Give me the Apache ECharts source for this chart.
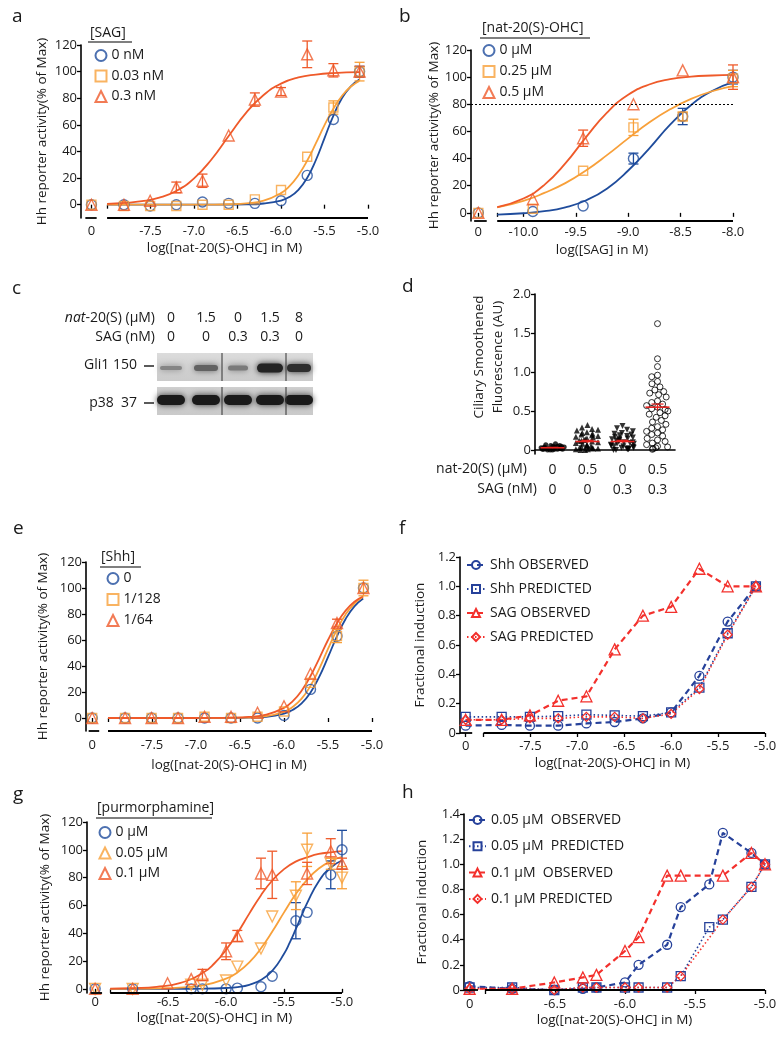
<!DOCTYPE html>
<html>
<head>
<meta charset="utf-8">
<script src="https://cdn.jsdelivr.net/npm/echarts@6.0.0/dist/echarts.min.js"></script>
<style>
  html, body { margin: 0; padding: 0; background: #fff; }
  #chart { width: 784px; height: 1037px; }
</style>
</head>
<body>
<div id="chart"></div>
<script>
const FONT = "'Open Sans', 'Liberation Sans', sans-serif";
const BLUE = '#1f4c9c', ORANGE = '#f8a03a', RED = '#ef5a2a';
const FBLUE = '#26419a', FRED = '#f3302c';

// ---- a: nat-20(S)-OHC dose response under [SAG] ----
const doseA = [0, -7.806, -7.505, -7.204, -6.903, -6.602, -6.301, -6.0, -5.699, -5.398, -5.097];
const aSag0 = [0, 0, -1, 0, 2, 1, 1, 3, 22, 64, 100];
const aSag003 = [0, -1, -1, -1, 0, 0, 4, 11, 36, 73, 100];
const aSag03 = [0, 0, 3, 13, 18, 52, 79, 85, 113, 101, 100];
const aErr0 = [0, 0, 0, 0, 0, 0, 0, 0, 0, 0, 4];
const aErr003 = [0, 0, 0, 0, 0, 0, 0, 0, 0, 5, 7];
const aErr03 = [0, 0, 0, 4, 5, 0, 5, 3, 10, 5, 4];
// fitted curves
const aFit0 = [[-8.0, 0], [-7.6, 0], [-7.2, 0], [-6.8, 0], [-6.6, 0.1], [-6.4, 0.2], [-6.2, 0.9], [-6.0, 3.1], [-5.9, 5.9], [-5.8, 11.2], [-5.7, 20], [-5.6, 33.4], [-5.5, 50], [-5.4, 66.6], [-5.3, 80], [-5.2, 88.8], [-5.1, 94]];
const aFit003 = [[-8.0, 0], [-7.6, 0], [-7.2, 0], [-6.8, 0.1], [-6.6, 0.35], [-6.4, 1.0], [-6.2, 3.0], [-6.0, 8.7], [-5.9, 14.1], [-5.8, 22.2], [-5.7, 33], [-5.6, 46], [-5.5, 59.8], [-5.4, 72], [-5.3, 81.7], [-5.2, 88.6], [-5.1, 93]];
const aFit03 = [[-8.0, 0.6], [-7.8, 1.3], [-7.6, 2.6], [-7.4, 5.3], [-7.2, 10.5], [-7.0, 19.8], [-6.8, 34], [-6.6, 51.8], [-6.4, 69.2], [-6.2, 82.4], [-6.0, 91], [-5.8, 95.6], [-5.6, 97.8], [-5.4, 98.9], [-5.1, 99.6]];

// ---- b: SAG dose response under [nat-20(S)-OHC] ----
const doseB = [0, -9.91, -9.43, -8.95, -8.48, -8.0];
const bOhc0 = [0, 1, 5, 40, 71, 100];
const bOhc025 = [0, 3, 31, 63, 71, 99];
const bOhc05 = [0, 10, 55, 80, 105, 100];
const bErr0 = [0, 0, 0, 4, 6, 5];
const bErr025 = [0, 0, 0, 6, 3, 6];
const bErr05 = [0, 0, 6, 0, 0, 9];
const bFit0 = [[-10.25, -1.3], [-10.0, -0.3], [-9.8, 1.2], [-9.6, 4.1], [-9.4, 9.3], [-9.2, 18], [-9.0, 31.2], [-8.8, 47.4], [-8.6, 65], [-8.4, 79.5], [-8.2, 89.8], [-8.0, 96.3]];
const bFit025 = [[-10.25, 4], [-10.0, 8.8], [-9.8, 14.7], [-9.6, 21.9], [-9.4, 31.4], [-9.2, 42.7], [-9.0, 54.9], [-8.8, 66.5], [-8.6, 76.3], [-8.4, 84], [-8.2, 89.6], [-8.0, 93.3]];
const bFit05 = [[-10.25, 4.3], [-10.0, 10.6], [-9.8, 20.6], [-9.6, 36.4], [-9.4, 56], [-9.2, 74.1], [-9.0, 87], [-8.8, 94.6], [-8.6, 98.5], [-8.4, 100.4], [-8.2, 101.2], [-8.0, 101.6]];

// ---- c: western blot lanes ----
const blotNat = ['0', '1.5', '0', '1.5', '8'];
const blotSag = ['0', '0', '0.3', '0.3', '0'];

// ---- d: ciliary Smoothened ----
const dCats = ['0\n0', '0.5\n0', '0\n0.3', '0.5\n0.3'];
const dCtrl = [0.00, 0.00, 0.01, 0.01, 0.01, 0.02, 0.02, 0.02, 0.02, 0.03, 0.03, 0.03, 0.04, 0.04, 0.05, 0.05, 0.06, 0.07, 0.08, 0.01, 0.02, 0.03, 0.00, 0.04, 0.06, 0.02, 0.05, 0.01];
const dNat = [0.32, 0.29, 0.27, 0.26, 0.25, 0.23, 0.22, 0.21, 0.2, 0.19, 0.18, 0.17, 0.16, 0.15, 0.14, 0.13, 0.12, 0.11, 0.1, 0.09, 0.08, 0.07, 0.06, 0.05, 0.05, 0.04, 0.03, 0.03, 0.02, 0.02, 0.01, 0.01, 0.0, 0.0, 0.12];
const dSag = [0.31, 0.28, 0.26, 0.24, 0.22, 0.21, 0.2, 0.19, 0.18, 0.17, 0.16, 0.15, 0.14, 0.13, 0.12, 0.11, 0.1, 0.1, 0.09, 0.08, 0.07, 0.06, 0.05, 0.05, 0.04, 0.03, 0.03, 0.02, 0.02, 0.01, 0.01, 0.0, 0.0, 0.15, 0.08];
const dBoth = [1.62, 1.17, 1.07, 0.96, 0.94, 0.88, 0.85, 0.81, 0.77, 0.75, 0.73, 0.71, 0.68, 0.63, 0.61, 0.59, 0.57, 0.55, 0.53, 0.52, 0.5, 0.48, 0.46, 0.44, 0.42, 0.38, 0.36, 0.33, 0.3, 0.28, 0.26, 0.24, 0.22, 0.2, 0.18, 0.15, 0.13, 0.11, 0.09, 0.07, 0.05, 0.04, 0.03, 0.02, 0.01];
const dMean = [0.03, 0.11, 0.11, 0.55];
const dSem = [0.005, 0.015, 0.015, 0.04];

// ---- e: nat-20(S)-OHC dose response under [Shh] ----
const eShh0 = [0, 0, 0, 0, 0, 0, 0, 2, 22, 63, 100];
const eShh128 = [0, 0, 0, 0, 1, 0, 1, 5, 27, 63, 100];
const eShh64 = [0, 0, 0, 0, 1, 1, 4, 9, 34, 73, 100];
const eErr0 = [0, 0, 0, 0, 0, 0, 0, 0, 0, 0, 0];
const eErr128 = [0, 0, 0, 0, 0, 0, 0, 0, 0, 5, 6];
const eErr64 = [0, 0, 0, 0, 0, 0, 0, 0, 0, 3, 0];
const eFit0 = [[-8.0, 0], [-7.6, 0], [-7.2, 0], [-6.8, 0], [-6.6, 0.07], [-6.4, 0.27], [-6.2, 0.95], [-6.0, 3.4], [-5.9, 6.3], [-5.8, 11.3], [-5.7, 19.5], [-5.6, 31.6], [-5.5, 46.8], [-5.4, 62.6], [-5.3, 76.2], [-5.2, 85.9], [-5.1, 92]];
const eFit128 = [[-8.0, 0], [-7.6, 0], [-7.2, 0], [-6.8, 0.1], [-6.6, 0.2], [-6.4, 0.4], [-6.2, 1.4], [-6.0, 4.8], [-5.9, 8.6], [-5.8, 14.9], [-5.7, 24.6], [-5.6, 37.8], [-5.5, 53.1], [-5.4, 67.8], [-5.3, 79.7], [-5.2, 88], [-5.1, 93.2]];
const eFit64 = [[-8.0, 0], [-7.6, 0], [-7.2, 0], [-6.8, 0.1], [-6.6, 0.27], [-6.4, 0.8], [-6.2, 2.6], [-6.0, 7.8], [-5.9, 13], [-5.8, 21], [-5.7, 32.1], [-5.6, 45.7], [-5.5, 60], [-5.4, 72.7], [-5.3, 82.6], [-5.2, 89.4], [-5.1, 93.7]];

// ---- f: fractional induction, Shh vs SAG ----
const fShhObs = [0.05, 0.055, 0.05, 0.05, 0.065, 0.075, 0.10, 0.14, 0.39, 0.76, 1.0];
const fShhPred = [0.11, 0.11, 0.11, 0.115, 0.125, 0.12, 0.115, 0.14, 0.31, 0.68, 1.0];
const fSagObs = [0.09, 0.09, 0.12, 0.22, 0.25, 0.57, 0.80, 0.86, 1.12, 1.0, 1.0];
const fSagPred = [0.09, 0.09, 0.10, 0.10, 0.11, 0.11, 0.10, 0.13, 0.30, 0.67, 1.0];

// ---- g: nat-20(S)-OHC dose response under [purmorphamine] ----
const doseG = [0, -6.806, -6.505, -6.301, -6.204, -6.0, -5.903, -5.699, -5.602, -5.398, -5.301, -5.097, -5.0];
const gPur0 = [0, 0, null, 0, 0, 0, 0.5, 1.5, 9, 49, 55, 82, 100];
const gPur005 = [0, 0, null, 3, 3, 6, 16, 29, 52, 67, 100, 90, 80];
const gPur01 = [0, 0, 4, 7, 10, 27, 38, 83, 82, null, 83, 99, 90];
const gErr0 = [0, 0, 0, 0, 0, 0, 0, 0, 0, 13, 0, 10, 14];
const gErr005 = [0, 0, 0, 0, 0, 0, 0, 0, 0, 10, 12, 4, 8];
const gErr01 = [0, 0, 0, 0, 4, 6, 4, 11, 17, 0, 8, 9, 4];
const gFit0 = [[-7.0, 0], [-6.6, 0], [-6.4, 0], [-6.2, 0.1], [-6.0, 0.6], [-5.9, 1.3], [-5.8, 2.9], [-5.7, 6.3], [-5.6, 13.1], [-5.5, 25.2], [-5.45, 33.4], [-5.4, 42.7], [-5.35, 52.4], [-5.3, 61.8], [-5.2, 77.4], [-5.1, 87.1], [-5.0, 92.3]];
const gFit005 = [[-7.0, 0], [-6.8, 0.1], [-6.6, 0.3], [-6.4, 0.9], [-6.2, 2.5], [-6.0, 7.3], [-5.9, 11.9], [-5.8, 19], [-5.7, 29], [-5.6, 41.4], [-5.5, 55], [-5.4, 68], [-5.3, 78.6], [-5.2, 86.5], [-5.1, 91.7], [-5.0, 95]];
const gFit01 = [[-7.0, 0.15], [-6.8, 0.5], [-6.6, 1.4], [-6.4, 4.1], [-6.2, 11.5], [-6.1, 18.4], [-6.0, 28.1], [-5.9, 40.4], [-5.8, 54.1], [-5.7, 67.2], [-5.6, 78.1], [-5.5, 86.1], [-5.4, 91.5], [-5.3, 94.6], [-5.2, 97], [-5.1, 98.2], [-5.0, 99]];

// ---- h: fractional induction, purmorphamine ----
const hObs005 = [0.03, 0.01, 0.0, 0.01, 0.02, 0.06, 0.2, 0.36, 0.66, 0.84, 1.25, 1.09, 1.0];
const hPred005 = [0.02, 0.02, 0.0, 0.02, 0.02, 0.02, 0.02, 0.02, 0.11, 0.5, 0.56, 0.82, 1.0];
const hObs01 = [0.01, 0.01, 0.06, 0.1, 0.12, 0.31, 0.42, 0.91, 0.91, null, 0.91, 1.09, 1.0];
const hPred01 = [0.01, 0.01, 0.0, 0.02, 0.02, 0.02, 0.02, 0.02, 0.11, null, 0.56, 0.82, 1.0];

const hhTicks = [0, 20, 40, 60, 80, 100, 120];

const grids = [], xAxes = [], yAxes = [], series = [], legends = [], graphics = [];

function fmtDec(v) { return v === 0 ? '0' : v.toFixed(1); }

function addPanel(p) {
  const gi = grids.length;
  grids.push(p.grid);
  xAxes.push({
    gridIndex: gi, type: 'value', min: p.x[0], max: p.x[1],
    axisLine: { show: false }, splitLine: { show: false },
    axisTick: { show: true, length: 4, lineStyle: { color: '#000', width: 1.3 }, customValues: [p.ctrl, p.main[0]].concat(p.xt) },
    axisLabel: { customValues: [p.ctrl].concat(p.xt), formatter: v => Math.abs(v - p.ctrl) < 1e-6 ? '0' : v.toFixed(1), color: '#1a1a1a', fontSize: 13, margin: p.xMargin },
    name: p.xName, nameLocation: 'middle', nameGap: p.xGap, nameTextStyle: { color: '#1a1a1a', fontSize: 13.5 }
  });
  yAxes.push({
    gridIndex: gi, type: 'value', min: p.y[0], max: p.y[1],
    axisLine: { show: true, lineStyle: { color: '#000', width: 1.6 } }, splitLine: { show: false },
    axisTick: { show: true, length: 4, lineStyle: { color: '#000', width: 1.3 }, customValues: p.yt },
    axisLabel: { customValues: p.yt, formatter: p.yFmt || (v => String(v)), color: '#1a1a1a', fontSize: 13, margin: 4 },
    name: p.yName, nameLocation: 'middle', nameGap: p.yGap, nameRotate: 90, nameTextStyle: { color: '#1a1a1a', fontSize: 13.5 }
  });
  // broken x axis: short segment for the vehicle control, then the log axis
  series.push({
    type: 'custom', xAxisIndex: gi, yAxisIndex: gi, silent: true, z: 5,
    data: [[p.seg[0], p.y[0], p.seg[1]], [p.main[0], p.y[0], p.main[1]]],
    renderItem: (params, api) => {
      const s = api.coord([api.value(0), api.value(1)]);
      const e = api.coord([api.value(2), api.value(1)]);
      return { type: 'line', shape: { x1: s[0], y1: s[1], x2: e[0], y2: e[1] }, style: { stroke: '#000', lineWidth: 1.8 } };
    }
  });
  return gi;
}

function xOf(d, ctrl) { return d === 0 ? ctrl : d; }

function addPoints(gi, ctrl, name, doses, vals, sym, color, size, rot) {
  series.push({
    type: 'scatter', name, xAxisIndex: gi, yAxisIndex: gi, symbol: sym, symbolSize: size, symbolRotate: rot || 0, z: 4,
    itemStyle: { color: 'rgba(255,255,255,0)', borderColor: color, borderWidth: 1.4 },
    data: doses.map((d, i) => vals[i] == null ? null : [xOf(d, ctrl), vals[i]]).filter(Boolean)
  });
}

function addErr(gi, ctrl, doses, vals, errs, color) {
  series.push({
    type: 'custom', xAxisIndex: gi, yAxisIndex: gi, silent: true, z: 3,
    data: doses.map((d, i) => errs[i] ? [xOf(d, ctrl), vals[i], errs[i]] : null).filter(Boolean),
    renderItem: (params, api) => {
      const x = api.value(0), y = api.value(1), e = api.value(2);
      const t = api.coord([x, y + e]), b = api.coord([x, y - e]);
      const st = { stroke: color, lineWidth: 1.3 };
      return { type: 'group', children: [
        { type: 'line', shape: { x1: t[0], y1: t[1], x2: b[0], y2: b[1] }, style: st },
        { type: 'line', shape: { x1: t[0] - 5, y1: t[1], x2: t[0] + 5, y2: t[1] }, style: st },
        { type: 'line', shape: { x1: b[0] - 5, y1: b[1], x2: b[0] + 5, y2: b[1] }, style: st }
      ] };
    }
  });
}

function addCurve(gi, pts, color, extra) {
  series.push(Object.assign({
    type: 'line', xAxisIndex: gi, yAxisIndex: gi, data: pts, symbol: 'none', silent: true,
    smooth: 0.5, lineStyle: { color, width: 1.8 }, z: 2
  }, extra || {}));
}

function addFrac(gi, ctrl, name, doses, vals, sym, color, observed) {
  series.push({
    type: 'line', name, xAxisIndex: gi, yAxisIndex: gi, symbol: sym, symbolSize: sym === 'triangle' ? 11 : 9, z: 3,
    showAllSymbol: true,
    lineStyle: { color, width: observed ? 2.2 : 1.6, type: observed ? [6, 4] : [1.5, 2.5] },
    itemStyle: { color: 'rgba(255,255,255,0)', borderColor: color, borderWidth: 1.3 },
    data: doses.map((d, i) => vals[i] == null ? null : [xOf(d, ctrl), vals[i]]).filter(Boolean)
  });
}

function addLegend(left, top, gap, names, iw, ih) {
  legends.push({
    left, top, orient: 'vertical', padding: 0, itemGap: gap, itemWidth: iw, itemHeight: ih,
    selectedMode: false, data: names, textStyle: { fontSize: 14, color: '#1a1a1a' }
  });
}

function txt(x, y, text, style, rot) {
  const el = { type: 'text', x, y, silent: true,
    style: Object.assign({ text, fill: '#1a1a1a', fontSize: 14, fontFamily: FONT, align: 'left', verticalAlign: 'middle' }, style || {}) };
  if (rot) el.rotation = rot;
  graphics.push(el);
}
function ln(x1, y1, x2, y2, w, c) {
  graphics.push({ type: 'line', silent: true, shape: { x1, y1, x2, y2 }, style: { stroke: c || '#000', lineWidth: w || 1 } });
}

// ----- panel a -----
const pa = { grid: { left: 81, top: 45, width: 287, height: 173 }, x: [-8.3, -5.0], y: [-10, 120], ctrl: -8.18,
  seg: [-8.25, -8.12], main: [-8.0, -5.0], xt: [-7.5, -7.0, -6.5, -6.0, -5.5, -5.0], yt: hhTicks,
  xName: 'log([nat-20(S)-OHC] in M)', yName: 'Hh reporter activity(% of Max)', xMargin: 7, xGap: 23, yGap: 32 };
const ga = addPanel(pa);
addCurve(ga, aFit0, BLUE); addCurve(ga, aFit003, ORANGE); addCurve(ga, aFit03, RED);
addErr(ga, pa.ctrl, doseA, aSag0, aErr0, BLUE);
addErr(ga, pa.ctrl, doseA, aSag003, aErr003, ORANGE);
addErr(ga, pa.ctrl, doseA, aSag03, aErr03, RED);
addPoints(ga, pa.ctrl, '0 nM', doseA, aSag0, 'circle', BLUE, 10);
addPoints(ga, pa.ctrl, '0.03 nM', doseA, aSag003, 'rect', ORANGE, 9);
addPoints(ga, pa.ctrl, '0.3 nM', doseA, aSag03, 'triangle', RED, 11);
addLegend(94.5, 48.5, 6.5, ['0 nM', '0.03 nM', '0.3 nM'], 11, 11);

// ----- panel b -----
const pb = { grid: { left: 471, top: 50, width: 262, height: 171 }, x: [-10.5, -8.0], y: [-6, 120], ctrl: -10.43,
  seg: [-10.47, -10.35], main: [-10.25, -8.0], xt: [-10.0, -9.5, -9.0, -8.5, -8.0], yt: hhTicks,
  xName: 'log([SAG] in M)', yName: 'Hh reporter activity(% of Max)', xMargin: 5, xGap: 22, yGap: 30 };
const gb = addPanel(pb);
addCurve(gb, bFit0, BLUE); addCurve(gb, bFit025, ORANGE);
addCurve(gb, bFit05, RED, { markLine: { silent: true, symbol: 'none', label: { show: false },
  lineStyle: { color: '#000', width: 1, type: [2, 2] }, data: [{ yAxis: 80 }] } });
addErr(gb, pb.ctrl, doseB, bOhc0, bErr0, BLUE);
addErr(gb, pb.ctrl, doseB, bOhc025, bErr025, ORANGE);
addErr(gb, pb.ctrl, doseB, bOhc05, bErr05, RED);
addPoints(gb, pb.ctrl, '0 µM', doseB, bOhc0, 'circle', BLUE, 10);
addPoints(gb, pb.ctrl, '0.25 µM', doseB, bOhc025, 'rect', ORANGE, 9);
addPoints(gb, pb.ctrl, '0.5 µM', doseB, bOhc05, 'triangle', RED, 11);
addLegend(482.5, 43.5, 7, ['0 µM', '0.25 µM', '0.5 µM'], 11, 11);

// ----- panel e -----
const pe = { grid: { left: 86, top: 562, width: 286, height: 169 }, x: [-8.25, -5.0], y: [-10, 120], ctrl: -8.18,
  seg: [-8.22, -8.1], main: [-8.0, -5.0], xt: [-7.5, -7.0, -6.5, -6.0, -5.5, -5.0], yt: hhTicks,
  xName: 'log([nat-20(S)-OHC] in M)', yName: 'Hh reporter activity(% of Max)', xMargin: 8, xGap: 27, yGap: 36 };
const ge = addPanel(pe);
addCurve(ge, eFit0, BLUE); addCurve(ge, eFit128, ORANGE); addCurve(ge, eFit64, RED);
addErr(ge, pe.ctrl, doseA, eShh0, eErr0, BLUE);
addErr(ge, pe.ctrl, doseA, eShh128, eErr128, ORANGE);
addErr(ge, pe.ctrl, doseA, eShh64, eErr64, RED);
addPoints(ge, pe.ctrl, '0', doseA, eShh0, 'circle', BLUE, 10);
addPoints(ge, pe.ctrl, '1/128', doseA, eShh128, 'rect', ORANGE, 9);
addPoints(ge, pe.ctrl, '1/64', doseA, eShh64, 'triangle', RED, 11);
addLegend(106.5, 571.5, 7, ['0', '1/128', '1/64'], 11, 11);

// ----- panel f -----
const pf = { grid: { left: 460, top: 557, width: 305, height: 176 }, x: [-8.25, -5.0], y: [0, 1.2], ctrl: -8.19,
  seg: [-8.25, -8.12], main: [-8.0, -5.0], xt: [-7.5, -7.0, -6.5, -6.0, -5.5, -5.0], yt: [0, 0.2, 0.4, 0.6, 0.8, 1.0, 1.2],
  yFmt: fmtDec, xName: 'log([nat-20(S)-OHC] in M)', yName: 'Fractional induction', xMargin: 7, xGap: 23, yGap: 33 };
const gf = addPanel(pf);
addFrac(gf, pf.ctrl, 'Shh OBSERVED', doseA, fShhObs, 'circle', FBLUE, true);
addFrac(gf, pf.ctrl, 'Shh PREDICTED', doseA, fShhPred, 'rect', FBLUE, false);
addFrac(gf, pf.ctrl, 'SAG OBSERVED', doseA, fSagObs, 'triangle', FRED, true);
addFrac(gf, pf.ctrl, 'SAG PREDICTED', doseA, fSagPred, 'diamond', FRED, false);
addLegend(466, 558, 10, ['Shh OBSERVED', 'Shh PREDICTED', 'SAG OBSERVED', 'SAG PREDICTED'], 18, 10);

// ----- panel g -----
const pg = { grid: { left: 87, top: 822, width: 255, height: 171 }, x: [-7.2, -5.0], y: [-3, 120], ctrl: -7.13,
  seg: [-7.17, -7.07], main: [-7.0, -5.0], xt: [-6.5, -6.0, -5.5, -5.0], yt: hhTicks,
  xName: 'log([nat-20(S)-OHC] in M)', yName: 'Hh reporter activity(% of Max)', xMargin: 3, xGap: 18, yGap: 35 };
const gg = addPanel(pg);
addCurve(gg, gFit0, BLUE); addCurve(gg, gFit005, ORANGE); addCurve(gg, gFit01, RED);
addErr(gg, pg.ctrl, doseG, gPur0, gErr0, BLUE);
addErr(gg, pg.ctrl, doseG, gPur005, gErr005, ORANGE);
addErr(gg, pg.ctrl, doseG, gPur01, gErr01, RED);
addPoints(gg, pg.ctrl, '0 µM', doseG, gPur0, 'circle', BLUE, 10);
addPoints(gg, pg.ctrl, '0.05 µM', doseG, gPur005, 'triangle', ORANGE, 11, 180);
addPoints(gg, pg.ctrl, '0.1 µM', doseG, gPur01, 'triangle', RED, 11);
addLegend(98.5, 825.5, 6.5, ['0 µM', '0.05 µM', '0.1 µM'], 11, 11);

// ----- panel h -----
const ph = { grid: { left: 464, top: 814, width: 301, height: 176 }, x: [-7.15, -5.0], y: [0, 1.4], ctrl: -7.11,
  seg: [-7.15, -7.05], main: [-7.0, -5.0], xt: [-6.5, -6.0, -5.5, -5.0], yt: [0, 0.2, 0.4, 0.6, 0.8, 1.0, 1.2, 1.4],
  yFmt: fmtDec, xName: 'log([nat-20(S)-OHC] in M)', yName: 'Fractional induction', xMargin: 8, xGap: 23, yGap: 35 };
const gh = addPanel(ph);
addFrac(gh, ph.ctrl, '0.05 µM  OBSERVED', doseG, hObs005, 'circle', FBLUE, true);
addFrac(gh, ph.ctrl, '0.05 µM  PREDICTED', doseG, hPred005, 'rect', FBLUE, false);
addFrac(gh, ph.ctrl, '0.1 µM  OBSERVED', doseG, hObs01, 'triangle', FRED, true);
addFrac(gh, ph.ctrl, '0.1 µM PREDICTED', doseG, hPred01, 'diamond', FRED, false);
addLegend(468, 813, 12.3, ['0.05 µM  OBSERVED', '0.05 µM  PREDICTED', '0.1 µM  OBSERVED', '0.1 µM PREDICTED'], 17, 10);

// ----- panel d -----
const gd = grids.length;
grids.push({ left: 535, top: 294, width: 140, height: 160 });
xAxes.push({
  gridIndex: gd, type: 'category', data: dCats, jitter: 24, jitterOverlap: false, jitterMargin: 0,
  axisLine: { show: true, lineStyle: { color: '#000', width: 1.6 } }, axisTick: { show: false },
  axisLabel: { interval: 0, fontSize: 14, lineHeight: 20, color: '#1a1a1a', margin: 6 }
});
yAxes.push({
  gridIndex: gd, type: 'value', min: -0.05, max: 2.0, splitLine: { show: false },
  axisLine: { show: true, lineStyle: { color: '#000', width: 1.6 } },
  axisTick: { show: true, length: 4, lineStyle: { color: '#000', width: 1.3 }, customValues: [0, 0.5, 1.0, 1.5, 2.0] },
  axisLabel: { customValues: [0, 0.5, 1.0, 1.5, 2.0], formatter: fmtDec, color: '#1a1a1a', fontSize: 13, margin: 4 }
});
[[dCtrl, 'circle', 5, 0, true], [dNat, 'triangle', 6, 0, true], [dSag, 'triangle', 6, 180, true], [dBoth, 'circle', 6, 0, false]]
  .forEach((g, ci) => {
    series.push({
      type: 'scatter', xAxisIndex: gd, yAxisIndex: gd, symbol: g[1], symbolSize: g[2], symbolRotate: g[3], z: 3, silent: true,
      itemStyle: g[4] ? { color: '#000' } : { color: 'rgba(255,255,255,0)', borderColor: '#000', borderWidth: 1 },
      data: g[0].map(v => [ci, v])
    });
  });
series.push({
  type: 'custom', xAxisIndex: gd, yAxisIndex: gd, silent: true, z: 6,
  data: dMean.map((m, i) => [i, m, dSem[i]]),
  renderItem: (params, api) => {
    const c = api.coord([api.value(0), api.value(1)]);
    const hi = api.coord([api.value(0), api.value(1) + api.value(2)]);
    const lo = api.coord([api.value(0), api.value(1) - api.value(2)]);
    const st = { stroke: '#e8231f', lineWidth: 1.6 };
    return { type: 'group', children: [
      { type: 'line', shape: { x1: c[0] - 12, y1: c[1], x2: c[0] + 12, y2: c[1] }, style: st },
      { type: 'line', shape: { x1: c[0], y1: hi[1], x2: c[0], y2: lo[1] }, style: { stroke: '#e8231f', lineWidth: 1.2 } },
      { type: 'line', shape: { x1: c[0] - 6, y1: hi[1], x2: c[0] + 6, y2: hi[1] }, style: { stroke: '#e8231f', lineWidth: 1.2 } }
    ] };
  }
});
txt(489, 357, 'Ciliary Smoothened\nFluorescence (AU)', { align: 'center', fontSize: 13.5, lineHeight: 19 }, Math.PI / 2);
txt(527, 469, 'nat-20(S) (µM)', { align: 'right' });
txt(537, 489, 'SAG (nM)', { align: 'right' });

// ----- panel letters and legend headers -----
[['a', 12, 17], ['b', 399, 17], ['c', 12, 289], ['d', 402, 287], ['e', 13, 529], ['f', 399, 529], ['g', 13, 795], ['h', 402, 793]]
  .forEach(l => txt(l[1], l[2], l[0], { fontSize: 19 }));
txt(90, 33, '[SAG]'); ln(88, 42, 132, 42, 1.2);
txt(482, 28, '[nat-20(S)-OHC]'); ln(480, 38, 590, 38, 1.2);
txt(101, 557, '[Shh]'); ln(100, 567, 141, 567, 1.2);
txt(97, 808, '[purmorphamine]'); ln(96, 818, 212, 818, 1.2);

// ----- panel c: western blot -----
const laneX = [171, 206, 238, 270, 299];
txt(155, 318, '{i|nat}-20(S) (µM)', { align: 'right', rich: { i: { fontStyle: 'italic', fontSize: 14, fontFamily: FONT } } });
txt(155, 337, 'SAG (nM)', { align: 'right' });
blotNat.forEach((t, i) => txt(laneX[i], 318, t, { align: 'center' }));
blotSag.forEach((t, i) => txt(laneX[i], 337, t, { align: 'center' }));
graphics.push({ type: 'rect', silent: true, shape: { x: 157, y: 353, width: 156, height: 28 },
  style: { fill: new echarts.graphic.LinearGradient(0, 0, 0, 1, [{ offset: 0, color: '#dcdcdc' }, { offset: 0.5, color: '#d2d2d2' }, { offset: 1, color: '#cbcbcb' }]) } });
graphics.push({ type: 'rect', silent: true, shape: { x: 157, y: 387, width: 156, height: 28 },
  style: { fill: new echarts.graphic.LinearGradient(0, 0, 0, 1, [{ offset: 0, color: '#d0d0d0' }, { offset: 1, color: '#cacaca' }]) } });
const gliBands = [[11, 2, '#858585'], [12, 3, '#626262'], [10, 2.5, '#7a7a7a'], [13, 4.5, '#232323'], [12, 4, '#2e2e2e']];
gliBands.forEach((b, i) => graphics.push({ type: 'rect', silent: true,
  shape: { x: laneX[i] - b[0], y: 368 - b[1], width: b[0] * 2, height: b[1] * 2, r: b[1] },
  style: { fill: b[2], shadowBlur: 6, shadowColor: b[2] } }));
laneX.forEach((x, i) => graphics.push({ type: 'rect', silent: true,
  shape: { x: x - 14, y: 395, width: 28, height: 10, r: 5 },
  style: { fill: '#1a1a1a', shadowBlur: 6, shadowColor: '#333' } }));
[222, 286].forEach(x => { ln(x, 353, x, 381, 1, '#333'); ln(x, 387, x, 415, 1, '#333'); });
txt(137, 365, 'Gli1 150', { align: 'right' }); ln(144, 366, 154, 366, 1.3);
txt(137, 403, 'p38  37', { align: 'right' }); ln(144, 403, 154, 403, 1.3);

const chart = echarts.init(document.getElementById('chart'));
chart.setOption({
  animation: false,
  backgroundColor: '#fff',
  textStyle: { fontFamily: FONT },
  grid: grids,
  xAxis: xAxes,
  yAxis: yAxes,
  legend: legends,
  series: series,
  graphic: graphics
});
</script>
</body>
</html>
